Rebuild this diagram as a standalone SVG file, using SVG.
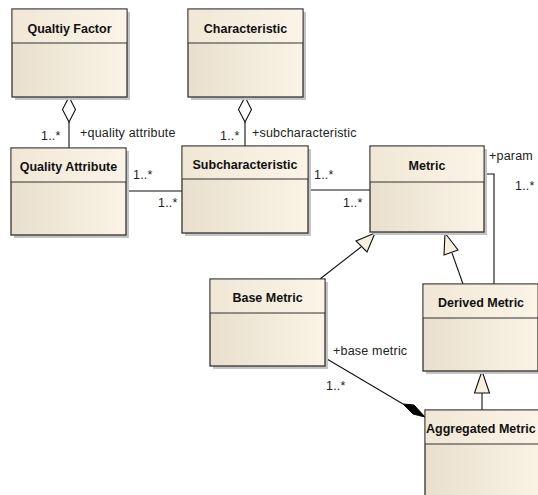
<svg xmlns="http://www.w3.org/2000/svg" width="538" height="495" viewBox="0 0 538 495">
<style>
.box{stroke:#333;stroke-width:1.3;fill:url(#body)}
.hdr{fill:url(#head);stroke:none}
.sh{fill:#c4c4c4}
.div{stroke:#333;stroke-width:1.1}
.t{font-family:"Liberation Sans",Arial,sans-serif;font-size:12.5px;font-weight:bold;fill:#111;text-anchor:middle}
.l{font-family:"Liberation Sans",Arial,sans-serif;font-size:12.5px;letter-spacing:0.2px;fill:#222}
.c{stroke:#111;stroke-width:1.1;fill:none}
.tri{fill:#f7efe0;stroke:#111;stroke-width:1.1}
</style>
<defs>
<linearGradient id="body" x1="0" y1="0" x2="1" y2="0">
<stop offset="0" stop-color="#e8dfce"/>
<stop offset="1" stop-color="#fbf3e5"/>
</linearGradient>
<linearGradient id="head" x1="0" y1="0" x2="1" y2="0">
<stop offset="0" stop-color="#f0e7d6"/>
<stop offset="1" stop-color="#fbf4e7"/>
</linearGradient>
</defs>
<rect width="538" height="495" fill="#fff"/>

<g id="connectors">
<line class="c" x1="69" y1="122" x2="69" y2="148"/>
<polygon class="c" points="69,97 75.5,109.5 69,122 62.5,109.5" style="fill:#fff"/>
<line class="c" x1="245" y1="122" x2="245" y2="146"/>
<polygon class="c" points="245,97 251.5,109.5 245,122 238.5,109.5" style="fill:#fff"/>
<line class="c" x1="126" y1="191" x2="182" y2="191"/>
<line class="c" x1="308" y1="190" x2="370" y2="190"/>
<polyline class="c" points="484,174 494,174 494,284"/>
<line class="c" x1="320" y1="279" x2="361" y2="247"/>
<polygon class="tri" points="375,233 367,252 356,241"/>
<line class="c" x1="463" y1="284" x2="452" y2="253"/>
<polygon class="tri" points="445,233 458,250 444,255"/>
<line class="c" x1="482" y1="410" x2="482" y2="393"/>
<polygon class="tri" points="482,371 489.5,393 474.5,393"/>
<line class="c" x1="327" y1="359" x2="403" y2="404"/>
<polygon points="425,417 413,414 403,404 414,405" fill="#000" stroke="#000" stroke-width="1"/>
</g>

<g id="labels">
<text class="l" x="41" y="140">1..*</text>
<text class="l" x="80" y="137">+quality attribute</text>
<text class="l" x="220" y="140">1..*</text>
<text class="l" x="252" y="137">+subcharacteristic</text>
<text class="l" x="133" y="179">1..*</text>
<text class="l" x="158" y="207">1..*</text>
<text class="l" x="314" y="179">1..*</text>
<text class="l" x="343" y="207">1..*</text>
<text class="l" x="489" y="160">+param</text>
<text class="l" x="515" y="190">1..*</text>
<text class="l" x="333" y="355">+base metric</text>
<text class="l" x="326" y="390">1..*</text>
</g>

<g id="qualityFactor">
<rect class="sh" x="15" y="12" width="115" height="88"/>
<rect class="box" x="12" y="9" width="115" height="88"/>
<rect class="hdr" x="12.7" y="9.7" width="113.6" height="33"/>
<line class="div" x1="12" y1="43" x2="127" y2="43"/>
<text class="t" x="69.5" y="33">Qualtiy Factor</text>
</g>

<g id="characteristic">
<rect class="sh" x="191" y="12" width="115" height="88"/>
<rect class="box" x="188" y="9" width="115" height="88"/>
<rect class="hdr" x="188.7" y="9.7" width="113.6" height="33"/>
<line class="div" x1="188" y1="43" x2="303" y2="43"/>
<text class="t" x="245.5" y="33">Characteristic</text>
</g>

<g id="qualityAttribute">
<rect class="sh" x="14" y="151" width="115" height="87"/>
<rect class="box" x="11" y="148" width="115" height="87"/>
<rect class="hdr" x="11.7" y="148.7" width="113.6" height="33"/>
<line class="div" x1="11" y1="182" x2="126" y2="182"/>
<text class="t" x="68.5" y="171">Quality Attribute</text>
</g>

<g id="subcharacteristic">
<rect class="sh" x="185" y="149" width="126" height="87"/>
<rect class="box" x="182" y="146" width="126" height="87"/>
<rect class="hdr" x="182.7" y="146.7" width="124.6" height="32"/>
<line class="div" x1="182" y1="179" x2="308" y2="179"/>
<text class="t" x="245" y="169">Subcharacteristic</text>
</g>

<g id="metric">
<rect class="sh" x="373" y="149" width="114" height="86"/>
<rect class="box" x="370" y="146" width="114" height="86"/>
<rect class="hdr" x="370.7" y="146.7" width="112.6" height="35"/>
<line class="div" x1="370" y1="182" x2="484" y2="182"/>
<text class="t" x="427" y="170">Metric</text>
</g>

<g id="baseMetric">
<rect class="sh" x="213" y="282" width="115" height="87"/>
<rect class="box" x="210" y="279" width="115" height="87"/>
<rect class="hdr" x="210.7" y="279.7" width="113.6" height="33"/>
<line class="div" x1="210" y1="313" x2="325" y2="313"/>
<text class="t" x="267.5" y="302">Base Metric</text>
</g>

<g id="derivedMetric">
<rect class="sh" x="426" y="287" width="115" height="87"/>
<rect class="box" x="423" y="284" width="115" height="87"/>
<rect class="hdr" x="423.7" y="284.7" width="113.6" height="33"/>
<line class="div" x1="423" y1="318" x2="538" y2="318"/>
<text class="t" x="481" y="307">Derived Metric</text>
</g>

<g id="aggregatedMetric">
<rect class="sh" x="428" y="413" width="120" height="100"/>
<rect class="box" x="425" y="410" width="120" height="100"/>
<rect class="hdr" x="425.7" y="410.7" width="118.6" height="33"/>
<line class="div" x1="425" y1="444" x2="545" y2="444"/>
<text class="t" x="426" y="433" style="text-anchor:start">Aggregated Metric</text>
</g>
</svg>
